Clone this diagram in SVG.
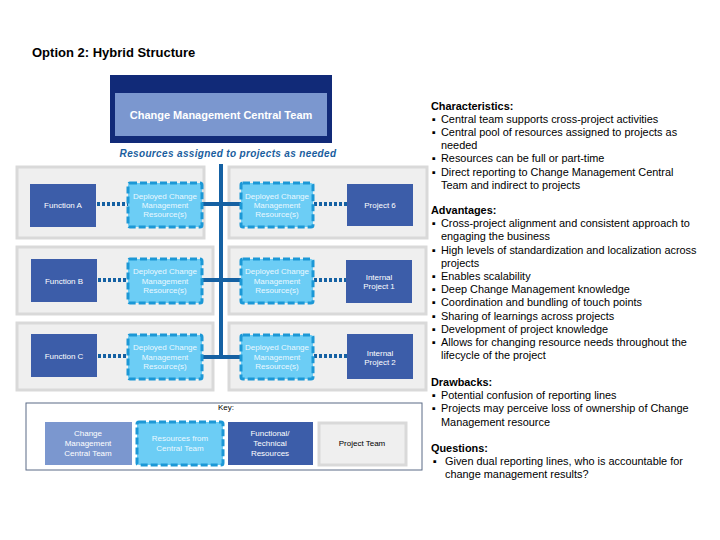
<svg xmlns="http://www.w3.org/2000/svg" width="720" height="540" viewBox="0 0 720 540">
<style>
text{font-family:"Liberation Sans",Arial,sans-serif}
.panel{fill:#efefef;stroke:#d9d9d9;stroke-width:3}
.fn{fill:#3c5da9}
.dep{fill:#6ccdf5;stroke:#1c98d6;stroke-width:3;stroke-dasharray:7 3}
.wt{fill:#ffffff;font-size:8px;text-anchor:middle}
.dt{fill:#eaf8ff;font-size:8px;text-anchor:middle}
.solid{stroke:#1561a3;stroke-width:4;fill:none}
.dot{stroke:#1561a3;stroke-width:4;fill:none;stroke-dasharray:3 2}
.rt{font-size:10.9px;fill:#000}
.hd{font-size:10.9px;font-weight:bold;fill:#000}
.kt{font-size:8px;text-anchor:middle}
</style>
<rect width="720" height="540" fill="#ffffff"/>
<text x="32" y="57" font-size="13" font-weight="bold" fill="#000">Option 2: Hybrid Structure</text>

<g id="panels">
<rect class="panel" x="17" y="167" width="187" height="71"/>
<rect class="panel" x="17" y="247" width="196" height="67"/>
<rect class="panel" x="17" y="323" width="196" height="67"/>
<rect class="panel" x="229" y="167" width="198" height="71"/>
<rect class="panel" x="229" y="247" width="197" height="67"/>
<rect class="panel" x="229" y="323" width="197" height="67"/>
</g>

<g id="connectors">
<line x1="221" y1="136" x2="221" y2="143" stroke="#2f7dc4" stroke-width="4"/>
<line class="solid" x1="221" y1="164" x2="221" y2="357"/>
<line class="solid" x1="202" y1="204" x2="241" y2="204"/>
<line class="solid" x1="202" y1="280" x2="241" y2="280"/>
<line class="solid" x1="202" y1="357" x2="241" y2="357"/>
<line class="dot" x1="97" y1="204" x2="128" y2="204"/>
<line class="dot" x1="98" y1="280" x2="128" y2="280"/>
<line class="dot" x1="98" y1="356" x2="128" y2="356"/>
<line class="dot" x1="314" y1="204" x2="347" y2="204"/>
<line class="dot" x1="314" y1="280" x2="346" y2="280"/>
<line class="dot" x1="314" y1="356" x2="347" y2="356"/>
</g>

<g id="central-team">
<rect x="110" y="75" width="222" height="68" fill="#112a78"/>
<rect x="115" y="93" width="212" height="43" fill="#7b97cf"/>
<text x="221" y="119" font-size="11" font-weight="bold" fill="#ffffff" text-anchor="middle">Change Management Central Team</text>
</g>
<text x="228" y="157" font-size="10" font-weight="bold" font-style="italic" fill="#1a5e9e" text-anchor="middle" letter-spacing="0.35">Resources assigned to projects as needed</text>

<g id="function-a"><rect class="fn" x="30" y="184" width="66" height="43"/><text class="wt" x="63" y="208">Function A</text></g>
<g id="function-b"><rect class="fn" x="31" y="259" width="66" height="43"/><text class="wt" x="64" y="284">Function B</text></g>
<g id="function-c"><rect class="fn" x="31" y="334" width="66" height="43"/><text class="wt" x="64" y="359">Function C</text></g>

<g id="deployed-a-left"><rect class="dep" x="128" y="183" width="74" height="44" rx="2"/><text class="dt" x="165" y="199">Deployed Change</text><text class="dt" x="165" y="208">Management</text><text class="dt" x="165" y="217">Resource(s)</text></g>
<g id="deployed-b-left"><rect class="dep" x="128" y="259" width="74" height="44" rx="2"/><text class="dt" x="165" y="274">Deployed Change</text><text class="dt" x="165" y="284">Management</text><text class="dt" x="165" y="293">Resource(s)</text></g>
<g id="deployed-c-left"><rect class="dep" x="128" y="335" width="74" height="44" rx="2"/><text class="dt" x="165" y="350">Deployed Change</text><text class="dt" x="165" y="360">Management</text><text class="dt" x="165" y="369">Resource(s)</text></g>

<g id="deployed-a-right"><rect class="dep" x="241" y="183" width="72" height="44" rx="2"/><text class="dt" x="277" y="199">Deployed Change</text><text class="dt" x="277" y="208">Management</text><text class="dt" x="277" y="217">Resource(s)</text></g>
<g id="deployed-b-right"><rect class="dep" x="241" y="259" width="72" height="44" rx="2"/><text class="dt" x="277" y="274">Deployed Change</text><text class="dt" x="277" y="284">Management</text><text class="dt" x="277" y="293">Resource(s)</text></g>
<g id="deployed-c-right"><rect class="dep" x="241" y="335" width="72" height="44" rx="2"/><text class="dt" x="277" y="350">Deployed Change</text><text class="dt" x="277" y="360">Management</text><text class="dt" x="277" y="369">Resource(s)</text></g>

<g id="project-6"><rect class="fn" x="347" y="184" width="66" height="42"/><text class="wt" x="380" y="208">Project 6</text></g>
<g id="internal-project-1"><rect class="fn" x="346" y="260" width="66" height="43"/><text class="wt" x="379" y="280">Internal</text><text class="wt" x="379" y="289">Project 1</text></g>
<g id="internal-project-2"><rect class="fn" x="347" y="334" width="66" height="45"/><text class="wt" x="380" y="356">Internal</text><text class="wt" x="380" y="365">Project 2</text></g>

<g id="key">
<rect x="26" y="403" width="396" height="67" fill="#ffffff" stroke="#5b6b86" stroke-width="1"/>
<text class="kt" x="226" y="410" fill="#000">Key:</text>
<rect x="45" y="422" width="87" height="43" fill="#7b97cf"/>
<text class="kt" x="88" y="436" fill="#fff">Change</text><text class="kt" x="88" y="446" fill="#fff">Management</text><text class="kt" x="88" y="456" fill="#fff">Central Team</text>
<rect class="dep" x="137" y="422" width="86" height="43" rx="2"/>
<text class="kt" x="180" y="441" fill="#eaf8ff">Resources from</text><text class="kt" x="180" y="451" fill="#eaf8ff">Central Team</text>
<rect class="fn" x="228" y="422" width="85" height="43"/>
<text class="kt" x="270" y="436" fill="#fff">Functional/</text><text class="kt" x="270" y="446" fill="#fff">Technical</text><text class="kt" x="270" y="456" fill="#fff">Resources</text>
<rect class="panel" x="319" y="423" width="87" height="42"/>
<text class="kt" x="362" y="446" fill="#000">Project Team</text>
</g>

<g id="notes">
<text class="hd" x="431" y="109.5">Characteristics:</text>
<text class="rt" x="432" y="122.7">▪</text><text class="rt" x="441" y="122.7">Central team supports cross-project activities</text>
<text class="rt" x="432" y="135.9">▪</text><text class="rt" x="441" y="135.9">Central pool of resources assigned to projects as</text>
<text class="rt" x="441" y="149.1">needed</text>
<text class="rt" x="432" y="162.3">▪</text><text class="rt" x="441" y="162.3">Resources can be full or part-time</text>
<text class="rt" x="432" y="175.5">▪</text><text class="rt" x="441" y="175.5">Direct reporting to Change Management Central</text>
<text class="rt" x="441" y="188.7">Team and indirect to projects</text>

<text class="hd" x="431" y="214">Advantages:</text>
<text class="rt" x="432" y="227.2">▪</text><text class="rt" x="441" y="227.2">Cross-project alignment and consistent approach to</text>
<text class="rt" x="441" y="240.4">engaging the business</text>
<text class="rt" x="432" y="253.6">▪</text><text class="rt" x="441" y="253.6">High levels of standardization and localization across</text>
<text class="rt" x="441" y="266.8">projects</text>
<text class="rt" x="432" y="280">▪</text><text class="rt" x="441" y="280">Enables scalability</text>
<text class="rt" x="432" y="293.2">▪</text><text class="rt" x="441" y="293.2">Deep Change Management knowledge</text>
<text class="rt" x="432" y="306.4">▪</text><text class="rt" x="441" y="306.4">Coordination and bundling of touch points</text>
<text class="rt" x="432" y="319.6">▪</text><text class="rt" x="441" y="319.6">Sharing of learnings across projects</text>
<text class="rt" x="432" y="332.8">▪</text><text class="rt" x="441" y="332.8">Development of project knowledge</text>
<text class="rt" x="432" y="346">▪</text><text class="rt" x="441" y="346">Allows for changing resource needs throughout the</text>
<text class="rt" x="441" y="359.2">lifecycle of the project</text>

<text class="hd" x="431" y="386">Drawbacks:</text>
<text class="rt" x="432" y="399.2">▪</text><text class="rt" x="441" y="399.2">Potential confusion of reporting lines</text>
<text class="rt" x="432" y="412.4">▪</text><text class="rt" x="441" y="412.4">Projects may perceive loss of ownership of Change</text>
<text class="rt" x="441" y="425.6">Management resource</text>

<text class="hd" x="431" y="452">Questions:</text>
<text class="rt" x="433" y="465.2">▪</text><text class="rt" x="445" y="465.2">Given dual reporting lines, who is accountable for</text>
<text class="rt" x="445" y="478.4">change management results?</text>
</g>
</svg>
